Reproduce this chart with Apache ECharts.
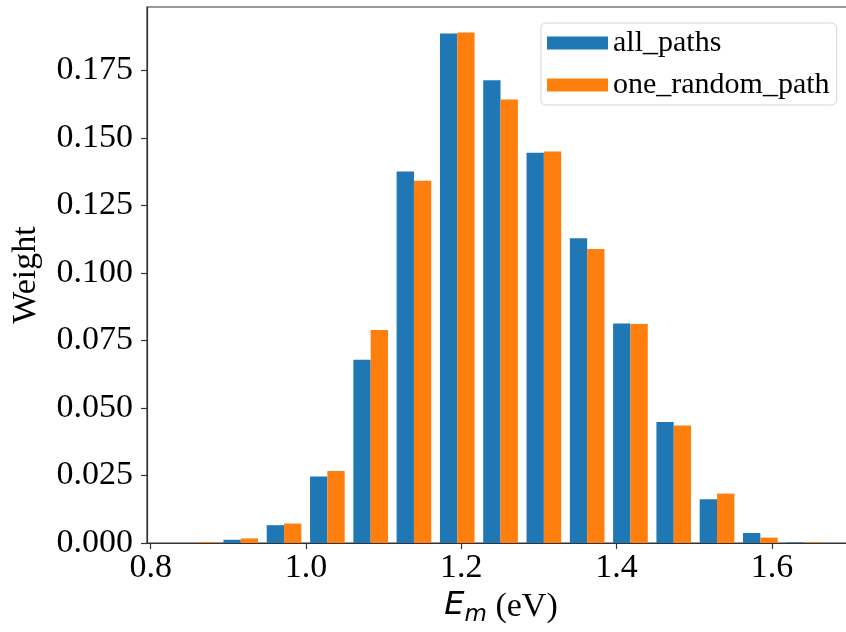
<!DOCTYPE html>
<html>
<head>
<meta charset="utf-8">
<script src="https://cdn.jsdelivr.net/npm/echarts@6/dist/echarts.min.js"></script>
<style>
html,body{margin:0;padding:0;background:#fff;}
#chart{width:846px;height:632px;}
</style>
</head>
<body>
<div id="chart"></div>
<script>
// Histogram bin edges (eV)
const binEdges = [0.8323, 0.8881, 0.9438, 0.9996, 1.0554, 1.1111, 1.1669, 1.2226, 1.2784, 1.3342, 1.3899, 1.4457, 1.5014, 1.5572, 1.6130, 1.6687];
// Weights per bin
const allPaths      = [0.0000, 0.0012, 0.0066, 0.0246, 0.0679, 0.1376, 0.1887, 0.1714, 0.1445, 0.1129, 0.0813, 0.0448, 0.0162, 0.0037, 0.0002];
const oneRandomPath = [0.0003, 0.0017, 0.0072, 0.0267, 0.0789, 0.1342, 0.1891, 0.1642, 0.1450, 0.1089, 0.0811, 0.0435, 0.0183, 0.0020, 0.0002];
// Tick labels
const xTicks = [0.8, 1.0, 1.2, 1.4, 1.6];
const yTicks = [0, 0.025, 0.05, 0.075, 0.1, 0.125, 0.15, 0.175];
const seriesNames = ['all_paths', 'one_random_path'];
const colors = ['#1f77b4', '#ff7f0e'];

function binData(values) {
  return values.map((v, i) => [binEdges[i], binEdges[i + 1], v]);
}

function makeRender(slot) {
  return function (params, api) {
    const x0 = api.value(0), x1 = api.value(1), v = api.value(2);
    const w = x1 - x0;
    const left = x0 + w * (0.1 + 0.4 * slot);
    const right = left + w * 0.4;
    const p0 = api.coord([left, v]);
    const p1 = api.coord([right, 0]);
    return {
      type: 'rect',
      shape: { x: p0[0], y: p0[1], width: p1[0] - p0[0], height: p1[1] - p0[1] },
      style: { fill: colors[slot] }
    };
  };
}

const chart = echarts.init(document.getElementById('chart'), null, { renderer: 'canvas' });
const serif = 'Liberation Serif';
chart.setOption({
  animation: false,
  backgroundColor: '#fff',
  grid: { left: 147, top: 7, right: -9, bottom: 89, containLabel: false, outerBoundsMode: 'none',
    show: true, borderColor: '#333', borderWidth: 1.2, backgroundColor: 'transparent' },
  legend: {
    orient: 'vertical', left: 541, top: 23,
    padding: [5, 7, 5, 6],
    itemWidth: 61, itemHeight: 13, itemGap: 12, itemTextGap: 7,
    borderColor: '#d5d5d5', borderWidth: 1, borderRadius: 5,
    backgroundColor: 'rgba(255,255,255,0.8)',
    textStyle: { fontFamily: serif, fontSize: 30, color: '#000', lineHeight: 30 },
    data: seriesNames.map((n, i) => ({ name: n, icon: 'rect', itemStyle: { color: colors[i] } }))
  },
  xAxis: {
    type: 'value', min: 0.7952, max: 1.707,
    axisLine: { show: true, onZero: false, lineStyle: { color: '#333', width: 1.2 } },
    axisTick: { show: true, length: 6, customValues: xTicks, lineStyle: { color: '#333', width: 1.2 } },
    axisLabel: { customValues: xTicks, fontFamily: serif, fontSize: 34, color: '#000', margin: 8,
      formatter: v => v.toFixed(1) },
    splitLine: { show: false },
    name: '{E|E}{m|m}{t| (eV)}',
    nameLocation: 'middle', nameGap: 44,
    nameTextStyle: {
      rich: {
        E: { fontFamily: 'DejaVu Sans', fontStyle: 'italic', fontSize: 32, color: '#000', verticalAlign: 'top', lineHeight: 34 },
        m: { fontFamily: 'DejaVu Sans', fontStyle: 'italic', fontSize: 23, color: '#000', verticalAlign: 'top', lineHeight: 23, padding: [14, 0, 0, 0] },
        t: { fontFamily: serif, fontSize: 34, color: '#000', verticalAlign: 'top', lineHeight: 34 }
      }
    }
  },
  yAxis: {
    type: 'value', min: 0, max: 0.1985,
    axisLine: { show: true, lineStyle: { color: '#333', width: 1.2 } },
    axisTick: { show: true, length: 6, customValues: yTicks, lineStyle: { color: '#333', width: 1.2 } },
    axisLabel: { customValues: yTicks, fontFamily: serif, fontSize: 34, color: '#000', margin: 14,
      formatter: v => v.toFixed(3) },
    splitLine: { show: false },
    name: 'Weight', nameLocation: 'middle', nameGap: 104, nameRotate: 90,
    nameTextStyle: { fontFamily: serif, fontSize: 34, color: '#000' }
  },
  series: seriesNames.map((n, i) => ({
    name: n, type: 'custom', renderItem: makeRender(i),
    itemStyle: { color: colors[i] },
    encode: { x: [0, 1], y: 2 },
    data: binData(i === 0 ? allPaths : oneRandomPath)
  }))
});
</script>
</body>
</html>
